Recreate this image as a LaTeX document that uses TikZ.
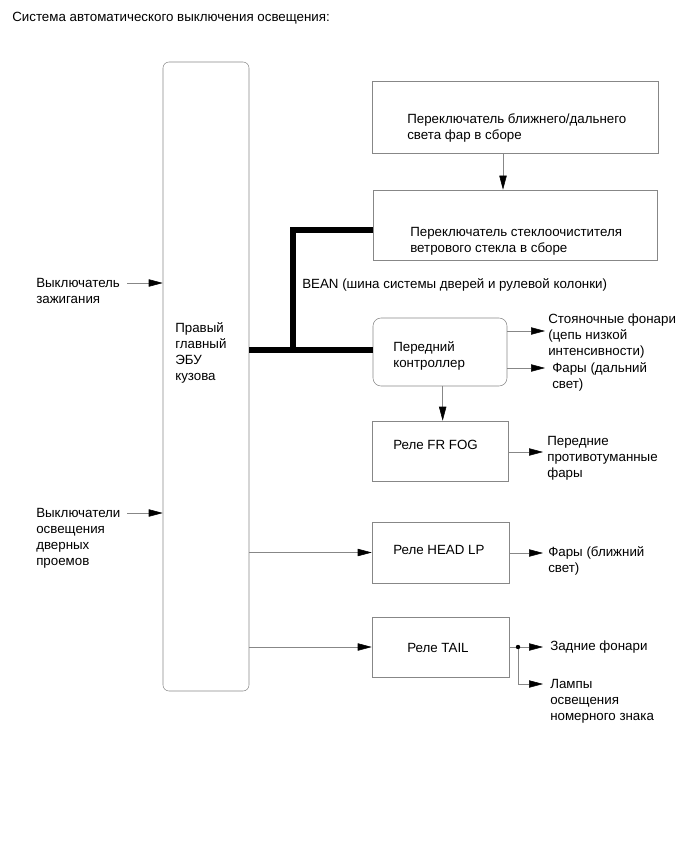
\documentclass[tikz,border=0pt]{standalone}
\usepackage{fontspec}
\setmainfont{Liberation Sans}
\usetikzlibrary{arrows.meta}

\definecolor{linegray}{RGB}{135,135,135}

\tikzset{
  box/.style={draw=linegray, inner sep=0pt},
  txt/.style={anchor=north west, align=left, inner sep=0pt,
    font=\fontsize{10}{12}\selectfont},
  arr/.style={draw=linegray, -{Triangle[length=10.5pt, width=5.5pt, color=black]}},
  bus/.style={line width=4pt},
}

\begin{document}
\begin{tikzpicture}[x=0.75pt, y=-0.75pt]
  % page frame, one unit = one pixel of the reference
  \useasboundingbox (0,0) rectangle (691,855);

  \node[txt] (title) at (12,12) {Система автоматического выключения освещения:};

  % body ECU, the tall block on the left
  \node[box, rounded corners=4.5pt, minimum width=64.5pt, minimum height=471.75pt]
    (ecu) at (206,376.5) {};
  \node[txt] (ecutxt) at (175,322) {Правый\\главный\\ЭБУ\\кузова};

  % inputs
  \node[txt] (ign) at (36,278) {Выключатель\\зажигания};
  \node[txt] (doors) at (36,508) {Выключатели\\освещения\\дверных\\проемов};
  \coordinate (ignfrom) at (127,283);
  \coordinate (doorsfrom) at (127,513);
  \draw[arr] (ignfrom) -- (ignfrom -| ecu.west);
  \draw[arr] (doorsfrom) -- (doorsfrom -| ecu.west);

  % switches on the column
  \node[box, minimum width=214.5pt, minimum height=54pt] (dimsw) at (515,117) {};
  \node[txt] (dimtxt) at (407,113) {Переключатель ближнего/дальнего\\света фар в сборе};
  \node[box, minimum width=213pt, minimum height=52.5pt] (wipsw) at (515,225) {};
  \node[txt] (wiptxt) at (410,227) {Переключатель стеклоочистителя\\ветрового стекла в сборе};
  \draw[arr] ([xshift=-9pt]dimsw.south) -- ([xshift=-9pt]wipsw.north);

  % front controller
  \node[box, rounded corners=6pt, minimum width=100.5pt, minimum height=51pt]
    (fc) at (440,352) {};
  \node[txt] (fctxt) at (393,341) {Передний\\контроллер};

  % BEAN bus
  \coordinate (busj) at (293,350);
  \coordinate (busup) at (293,230);
  \draw[bus] (ecu.east |- busj) -- (fc.west |- busj);
  \draw[bus] (busj) -- (busup) -- (wipsw.west |- busup);
  \node[txt] (bean) at (302,278) {BEAN (шина системы дверей и рулевой колонки)};

  % outputs of the front controller
  \node[txt] (park) at (548,314) {Стояночные фонари\\(цепь низкой\\интенсивности)};
  \node[txt] (high) at (552,362) {Фары (дальний\\свет)};
  \coordinate (parkto) at (545,331);
  \coordinate (highto) at (545,368);
  \draw[arr] (fc.east |- parkto) -- (parkto);
  \draw[arr] (fc.east |- highto) -- (highto);

  % relays
  \node[box, minimum width=102pt, minimum height=45pt] (fog) at (440,451) {};
  \node[txt] (fogtxt) at (393,440) {Реле FR FOG};
  \node[box, minimum width=102.75pt, minimum height=45.75pt] (head) at (440.5,552.5) {};
  \node[txt] (headtxt) at (393,545) {Реле HEAD LP};
  \node[box, minimum width=102.75pt, minimum height=45pt] (tail) at (440.5,647) {};
  \node[txt] (tailtxt) at (407,643) {Реле TAIL};

  \draw[arr] ([xshift=2pt]fc.south) -- ([xshift=2pt]fog.north);
  \draw[arr] (head.west -| ecu.east) -- (head.west);
  \draw[arr] (tail.west -| ecu.east) -- (tail.west);

  % relay outputs
  \node[txt] (fogl) at (547,436) {Передние\\противотуманные\\фары};
  \node[txt] (low) at (548,546) {Фары (ближний\\свет)};
  \node[txt] (rear) at (550,641) {Задние фонари};
  \node[txt] (plate) at (550,679) {Лампы\\освещения\\номерного знака};
  \coordinate (fogto) at (543,452);
  \coordinate (lowto) at (543,553);
  \coordinate (rearto) at (543,647);
  \coordinate (plateto) at (543,684);
  \coordinate (tailj) at (518,647);
  \draw[arr] (fog.east |- fogto) -- (fogto);
  \draw[arr] (head.east |- lowto) -- (lowto);
  \draw[arr] (tail.east) -- (rearto);
  \draw[arr] (tailj) |- (plateto);
  \fill (tailj) circle (2.2);
\end{tikzpicture}
\end{document}
